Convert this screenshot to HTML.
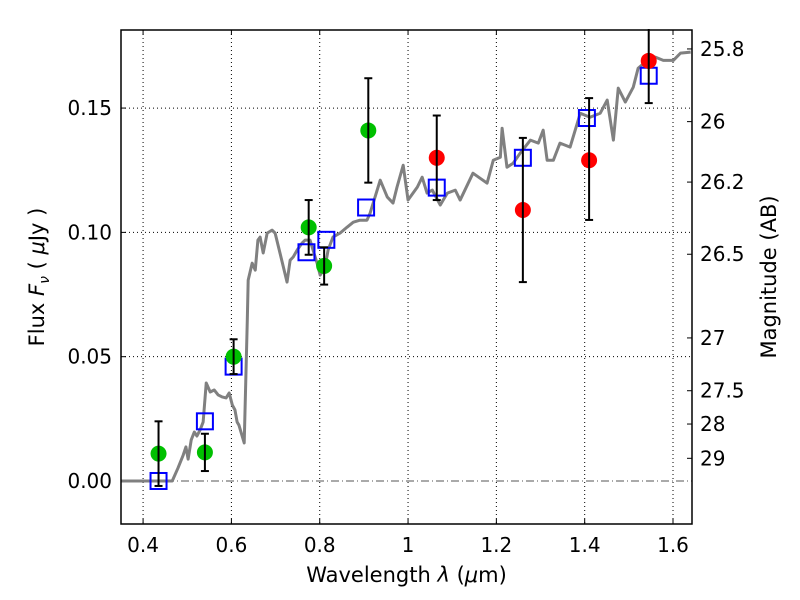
<!DOCTYPE html>
<html><head><meta charset="utf-8"><style>
body{margin:0;background:#fff;}
svg{display:block;font-family:"DejaVu Sans","Liberation Sans",sans-serif;}
</style></head><body>
<svg id="chart" width="800" height="600"></svg>
<script>
const specLam=[0.350,0.466,0.479,0.491,0.497,0.502,0.509,0.516,0.522,0.529,0.536,0.543,0.552,0.561,0.570,0.579,0.588,0.595,0.602,0.608,0.613,0.617,0.629,0.636,0.638,0.647,0.654,0.660,0.665,0.672,0.681,0.692,0.699,0.710,0.726,0.733,0.740,0.749,0.760,0.767,0.778,0.794,0.801,0.812,0.819,0.830,0.846,0.862,0.876,0.891,0.907,0.914,0.937,0.953,0.966,0.975,0.989,1.000,1.021,1.032,1.043,1.055,1.073,1.089,1.107,1.118,1.147,1.163,1.179,1.193,1.209,1.213,1.224,1.238,1.254,1.277,1.295,1.306,1.315,1.329,1.344,1.367,1.390,1.412,1.435,1.451,1.465,1.476,1.492,1.510,1.521,1.542,1.560,1.578,1.601,1.617,1.640];
const specFlux=[0,0,0.0052,0.0105,0.0137,0.0088,0.0165,0.0197,0.0181,0.0205,0.0237,0.0394,0.0358,0.0366,0.0346,0.0338,0.0334,0.0354,0.0306,0.0286,0.0237,0.0225,0.0153,0.0647,0.0808,0.0876,0.0848,0.0969,0.0981,0.0917,0.0997,0.1009,0.0997,0.0917,0.0800,0.0888,0.0901,0.0929,0.0957,0.0969,0.0969,0.0876,0.0828,0.0860,0.0929,0.0981,0.0997,0.1021,0.1041,0.1049,0.1049,0.1077,0.1210,0.1142,0.1118,0.1182,0.1270,0.1130,0.1182,0.1222,0.1158,0.1170,0.1110,0.1158,0.1170,0.1130,0.1238,0.1218,0.1198,0.1290,0.1302,0.1419,0.1262,0.1278,0.1319,0.1371,0.1359,0.1411,0.1290,0.1290,0.1359,0.1343,0.1479,0.1463,0.1479,0.1532,0.1371,0.1580,0.1524,0.1584,0.1660,0.1692,0.1705,0.1692,0.1692,0.1721,0.1725];
const greenLam=[0.435,0.54,0.605,0.775,0.81,0.91];
const greenFlux=[0.011,0.0115,0.050,0.102,0.0865,0.141];
const greenLo=[-0.002,0.004,0.043,0.091,0.079,0.120];
const greenHi=[0.024,0.019,0.057,0.113,0.094,0.162];
const redLam=[1.065,1.26,1.41,1.545];
const redFlux=[0.130,0.109,0.129,0.169];
const redLo=[0.113,0.080,0.105,0.152];
const redHi=[0.147,0.138,0.154,0.190];
const modelLam=[0.435,0.54,0.605,0.77,0.815,0.905,1.065,1.26,1.405,1.545];
const modelFlux=[0.000,0.024,0.046,0.092,0.097,0.110,0.118,0.130,0.146,0.163];
const xTicks=[0.4,0.6,0.8,1.0,1.2,1.4,1.6];
const xTickLabels=["0.4","0.6","0.8","1","1.2","1.4","1.6"];
const yTicks=[0,0.05,0.10,0.15];
const yTickLabels=["0.00","0.05","0.10","0.15"];
const magTicks=[25.8,26,26.2,26.5,27,27.5,28,29];
const magTickLabels=["25.8","26","26.2","26.5","27","27.5","28","29"];

const L=121,R=692,T=30,B=524;
const xmin=0.35,xmax=1.643,ymin=-0.0173,ymax=0.1814;
const X=v=>L+(v-xmin)/(xmax-xmin)*(R-L);
const Y=v=>B-(v-ymin)/(ymax-ymin)*(B-T);
const svg=document.getElementById('chart');
const NS='http://www.w3.org/2000/svg';
function mk(tag,attrs,parent){const e=document.createElementNS(NS,tag);for(const k in attrs)e.setAttribute(k,attrs[k]);(parent||svg).appendChild(e);return e;}

xTicks.forEach((t,i)=>{
  const g=mk('line',{x1:X(t),x2:X(t),y1:T,y2:B,stroke:'#000','stroke-width':1,'stroke-dasharray':'1,3'});
  
  
  mk('line',{x1:X(t),x2:X(t),y1:B,y2:B-5,stroke:'#000'});
  mk('line',{x1:X(t),x2:X(t),y1:T,y2:T+5,stroke:'#000'});
  const tx=mk('text',{x:X(t),y:B+28,'text-anchor':'middle','font-size':20});
  tx.textContent=xTickLabels[i];
  
  
});
yTicks.forEach((t,i)=>{
  if(t!==0){const g=mk('line',{x1:L,x2:R,y1:Y(t),y2:Y(t),stroke:'#000','stroke-width':1,'stroke-dasharray':'1,3'});
  
  }
  mk('line',{x1:L,x2:L+5,y1:Y(t),y2:Y(t),stroke:'#000'});
  const tx=mk('text',{x:L-9,y:Y(t)+7,'text-anchor':'end','font-size':20});
  tx.textContent=yTickLabels[i];
  
  
});
const zl=mk('line',{x1:L,x2:R,y1:Y(0),y2:Y(0),stroke:'#555','stroke-width':1,'stroke-dasharray':'8,3,1,3'});


magTicks.forEach((m,i)=>{
  const f=Math.pow(10,-(m-23.9)/2.5);
  mk('line',{x1:R,x2:R-5,y1:Y(f),y2:Y(f),stroke:'#000'});
  const tx=mk('text',{x:R+8,y:Y(f)+7,'font-size':20});
  tx.textContent=magTickLabels[i];
  
  
});

const sp=mk('polyline',{points:specLam.map((l,i)=>X(l)+','+Y(specFlux[i])).join(' '),fill:'none',stroke:'#808080','stroke-width':3,'stroke-linejoin':'round'});



modelLam.forEach((l,i)=>{
  const s=mk('rect',{x:X(l)-8,y:Y(modelFlux[i])-8,width:16,height:16,fill:'none',stroke:'#0000ff','stroke-width':2});
  
  
});
function pts(lam,flux,lo,hi,color,name){
  lam.forEach((l,i)=>{
    const c=mk('circle',{cx:X(l),cy:Y(flux[i]),r:8,fill:color});
    
    
  });
  lam.forEach((l,i)=>{
    const g=mk('g',{stroke:'#000','stroke-width':2});
    
    
    mk('line',{x1:X(l),x2:X(l),y1:Y(lo[i]),y2:Y(hi[i])},g);
    mk('line',{x1:X(l)-4,x2:X(l)+4,y1:Y(lo[i]),y2:Y(lo[i])},g);
    mk('line',{x1:X(l)-4,x2:X(l)+4,y1:Y(hi[i]),y2:Y(hi[i])},g);
  });
}
pts(greenLam,greenFlux,greenLo,greenHi,'#00c000','green-photometry-point');
pts(redLam,redFlux,redLo,redHi,'#ff0000','red-photometry-point');

const fr=mk('rect',{x:L,y:T,width:R-L,height:B-T,fill:'none',stroke:'#000','stroke-width':1.5});


mk('rect',{x:L,y:0,width:R-L,height:T-1,fill:'#fff'});
svg.appendChild(fr);

const xl=mk('text',{x:(L+R)/2,y:582,'text-anchor':'middle','font-size':21});
xl.innerHTML='Wavelength  <tspan font-style="italic">λ</tspan> (<tspan font-style="italic">μ</tspan>m)';


const yl=mk('text',{x:0,y:0,'text-anchor':'middle','font-size':21,transform:'translate(44,277) rotate(-90)'});
yl.innerHTML='Flux  <tspan font-style="italic">F</tspan><tspan font-style="italic" font-size="14" dy="5">ν</tspan><tspan dy="-5">  ( </tspan><tspan font-style="italic">μ</tspan>Jy )';


const rl=mk('text',{x:0,y:0,'text-anchor':'middle','font-size':21,transform:'translate(776,277) rotate(-90)'});
rl.textContent='Magnitude (AB)';


</script>
</body></html>
